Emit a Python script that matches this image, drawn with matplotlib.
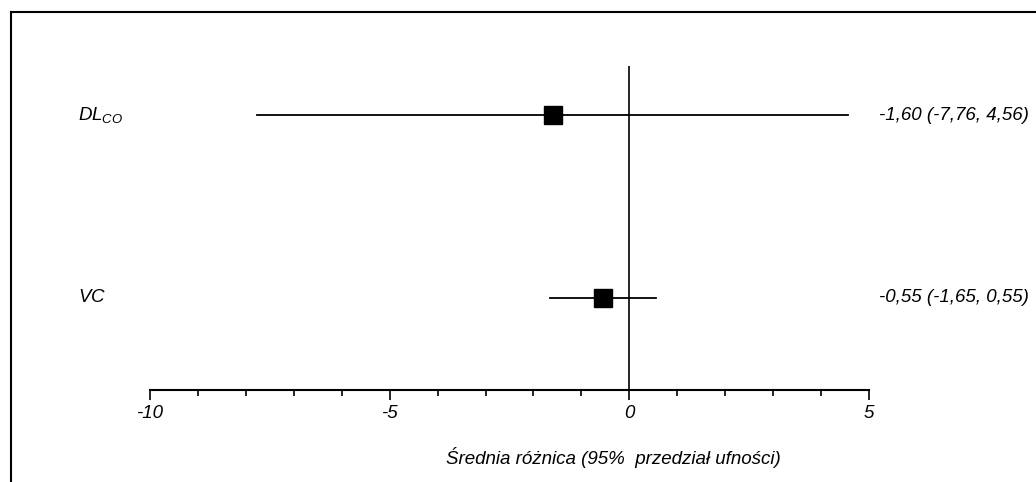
import matplotlib
matplotlib.use("Agg")
import matplotlib.pyplot as plt
from matplotlib.lines import Line2D
from matplotlib.ticker import MultipleLocator

plt.rcParams["font.family"] = ["Liberation Sans", "DejaVu Sans"]
plt.rcParams["font.style"] = "italic"
plt.rcParams["mathtext.fontset"] = "custom"
plt.rcParams["mathtext.it"] = "Liberation Sans:italic"
plt.rcParams["mathtext.rm"] = "Liberation Sans:italic"

# Forest plot data: mean difference with 95% CI
labels = [r"$\mathit{DL}_{\mathit{CO}}$", r"$\mathit{VC}$"]
means = [-1.60, -0.55]
lower = [-7.76, -1.65]
upper = [4.56, 0.55]
rows = [2, 1]
xticks = [-10, -5, 0, 5]
xlabel = "Średnia różnica (95%  przedział ufności)"

FS = 13.5
W, H = 1036, 482
fig = plt.figure(figsize=(W / 100, H / 100), dpi=100)

# axes placed in pixel terms: x from 150 to 869 px, y from 66 to 390 px
ax = fig.add_axes([150 / W, (H - 390) / H, 719 / W, 324 / H])
ax.set_xlim(-10, 5)
ax.set_ylim(0.497, 2.268)

for sp in ["top", "right", "left"]:
    ax.spines[sp].set_visible(False)
ax.spines["bottom"].set_linewidth(1.5)
ax.set_yticks([])

ax.set_xticks(xticks)
ax.set_xticklabels([str(t) for t in xticks])
ax.xaxis.set_minor_locator(MultipleLocator(1))
ax.tick_params(axis="x", which="major", direction="out", length=7.5, width=1.2,
               pad=3, labelsize=FS)
ax.tick_params(axis="x", which="minor", direction="out", length=4.5, width=1.2)

# line of no difference
ax.axvline(0, color="black", lw=1.2, zorder=1)

for r, m, lo, hi, lab in zip(rows, means, lower, upper, labels):
    ax.plot([lo, hi], [r, r], color="black", lw=1.3, zorder=2)
    ax.plot([m], [r], marker="s", color="black", markersize=13, zorder=3,
            linestyle="none")
    ax.text(-11.5, r, lab, fontsize=FS, ha="left", va="center", clip_on=False)
    ax.text(5.21, r, f"{m:.2f} ({lo:.2f}, {hi:.2f})".replace(".", ","),
            fontsize=FS, ha="left", va="center", clip_on=False)

fig.text(613 / W, 1 - 457 / H, xlabel, fontsize=FS, ha="center", va="center")

# outer frame: top and left edges
fig.add_artist(Line2D([11 / W, 1], [1 - 12 / H, 1 - 12 / H], color="black", lw=1.5,
                      transform=fig.transFigure))
fig.add_artist(Line2D([11 / W, 11 / W], [0, 1 - 12 / H], color="black", lw=1.5,
                      transform=fig.transFigure))

fig.savefig("out.png", dpi=100)
